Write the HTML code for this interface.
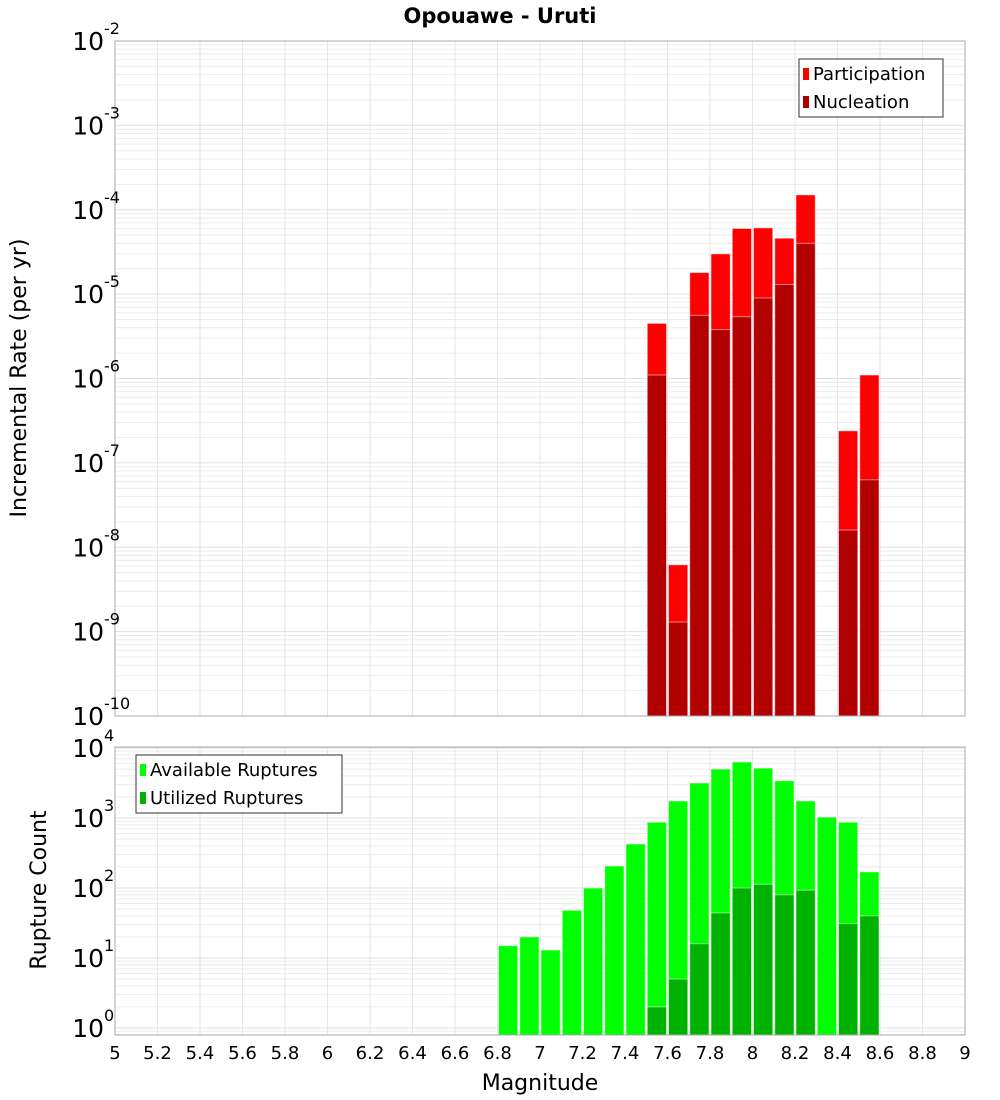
<!DOCTYPE html>
<html><head><meta charset="utf-8"><style>
body{margin:0;background:#fff;}
svg{display:block;font-family:"DejaVu Sans","Liberation Sans",sans-serif;}
</style></head><body>
<svg id="c" width="1000" height="1100" xmlns="http://www.w3.org/2000/svg"></svg>
<script>
const mags = [6.8,6.9,7.0,7.1,7.2,7.3,7.4,7.5,7.6,7.7,7.8,7.9,8.0,8.1,8.2,8.3,8.4,8.5];
const participation = [0,0,0,0,0,0,0,4.5e-6,6.2e-9,1.8e-5,3.0e-5,6.0e-5,6.1e-5,4.6e-5,1.5e-4,0,2.4e-7,1.1e-6];
const nucleation = [0,0,0,0,0,0,0,1.1e-6,1.3e-9,5.6e-6,3.8e-6,5.4e-6,9e-6,1.3e-5,4.0e-5,0,1.6e-8,6.3e-8];
const available = [15,20,13,48,100,206,425,870,1750,3160,5000,6300,5150,3400,1750,1030,870,170];
const utilized = [0,0,0,0,0,0,0,2,5,16,44,100,113,80,93,0,31,40];
const xTicks = [5,5.2,5.4,5.6,5.8,6,6.2,6.4,6.6,6.8,7,7.2,7.4,7.6,7.8,8,8.2,8.4,8.6,8.8,9];
const topExps = [-2,-3,-4,-5,-6,-7,-8,-9,-10];
const botExps = [4,3,2,1,0];

const S = document.getElementById('c');
const NS = 'http://www.w3.org/2000/svg';
function mk(tag, at, parent){const e=document.createElementNS(NS,tag);for(const k in at)e.setAttribute(k,at[k]);(parent||S).appendChild(e);return e;}
const X0=115,X1=965;
const xs = m => X0 + (m-5)/4*(X1-X0);
const T0=41,T1=716;
const yTop = v => T1 - (Math.log10(v)+10)*(T1-T0)/8;
const B0=747,B1=1035;
const yBot = v => 1028 - 70*Math.log10(v);

function panel(top,bot,yfn,minExp,maxExp,name){
  const g=mk('g',{});
  
  
  mk('rect',{x:X0,y:top,width:X1-X0,height:bot-top,fill:'#fff'},g);
  for(let e=minExp;e<maxExp;e++){for(let k=1;k<10;k++){const y=yfn(k*Math.pow(10,e));if(y<top||y>bot)continue;
    mk('line',{x1:X0,x2:X1,y1:y,y2:y,stroke:k==1?'#e0e0e0':'#ececec','stroke-width':1},g);}}
  xTicks.forEach(t=>{const x=xs(t);mk('line',{x1:x,x2:x,y1:top,y2:bot,stroke:'#e6e6e6','stroke-width':1},g);});
  return g;
}
const gt=panel(T0,T1,yTop,-10,-1,'top-plot');
const gb=panel(B0,B1,yBot,-1,5,'bottom-plot');

function bars(vals,yfn,base,color,name,g){
  vals.forEach((v,i)=>{if(!v)return;const x=xs(mags[i])+1;const w=xs(mags[i]+0.1)-xs(mags[i])-2;const y=Math.max(yfn(v),0);
    const r=mk('rect',{x:x,y:y,width:w,height:base-y,fill:color,stroke:'rgba(255,255,255,0.5)','stroke-width':1},g);
    
    });
}
bars(participation,yTop,T1,'#ff0000','participation-bar',gt);
bars(nucleation,yTop,T1,'#b20000','nucleation-bar',gt);
bars(available,yBot,B1,'#00ff00','available-bar',gb);
bars(utilized,yBot,B1,'#00b200','utilized-bar',gb);

mk('rect',{x:X0,y:T0,width:X1-X0,height:T1-T0,fill:'none',stroke:'#aaa'});
mk('rect',{x:X0,y:B0,width:X1-X0,height:B1-B0,fill:'none',stroke:'#aaa'});

function expLabel(yc,e,name){
  const t=mk('text',{x:104,y:yc+9,'text-anchor':'end','font-size':25,fill:'#000'});
  
  
  t.textContent='10';
  const s=mk('text',{x:104,y:yc-7,'font-size':16,fill:'#000'});
  s.textContent=String(e);
}
topExps.forEach(e=>expLabel(yTop(Math.pow(10,e)),e,'y-tick-top'));
botExps.forEach(e=>expLabel(yBot(Math.pow(10,e)),e,'y-tick-bottom'));
xTicks.forEach(t=>{const tx=mk('text',{x:xs(t),y:1059,'text-anchor':'middle','font-size':18,fill:'#000'});
  
  
  tx.textContent=String(t);});

let e;
e=mk('text',{x:500,y:23,'text-anchor':'middle','font-size':21,'font-weight':'bold'});e.textContent='Opouawe - Uruti';


e=mk('text',{x:540,y:1090,'text-anchor':'middle','font-size':22});e.textContent='Magnitude';


e=mk('text',{x:0,y:0,'text-anchor':'middle','font-size':22,transform:'translate(26,378) rotate(-90)'});e.textContent='Incremental Rate (per yr)';


e=mk('text',{x:0,y:0,'text-anchor':'middle','font-size':22,transform:'translate(46,890) rotate(-90)'});e.textContent='Rupture Count';



function legend(x,y,w,items,name){
  const g=mk('g',{});
  
  
  mk('rect',{x:x,y:y,width:w,height:58,fill:'#fff',stroke:'#333','stroke-width':1},g);
  items.forEach((it,i)=>{mk('rect',{x:x+4,y:y+9+i*28,width:6,height:12,fill:it[1]},g);
    const t=mk('text',{x:x+14,y:y+21+i*28,'font-size':18},g);t.textContent=it[0];});
}
legend(799,59,144,[['Participation','#ff0000'],['Nucleation','#b20000']],'legend-top');
legend(136,755,206,[['Available Ruptures','#00ff00'],['Utilized Ruptures','#00b200']],'legend-bottom');
</script>
</body></html>
